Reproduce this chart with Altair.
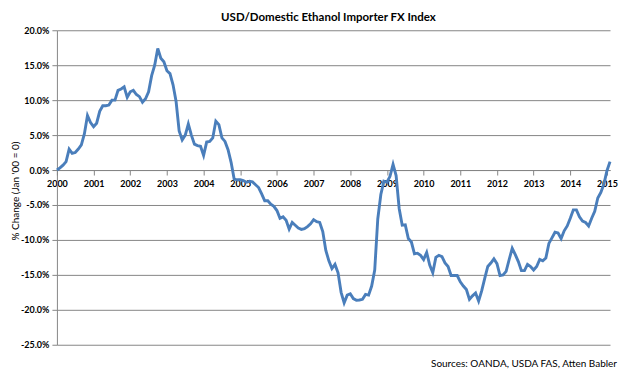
import altair as alt
import pandas as pd

# Monthly % change vs Jan 2000, Jan 2000 .. Feb 2015
pct_change = [
    0.0, 0.3, 0.7, 1.2, 3.0, 2.4, 2.5, 3.0, 3.6, 5.2, 7.8, 6.8,            # 2000
    6.2, 6.7, 8.4, 9.2, 9.2, 9.3, 10.0, 10.0, 11.4, 11.6, 11.9, 10.4,      # 2001
    11.2, 11.4, 10.8, 10.5, 9.7, 10.2, 11.2, 13.5, 15.0, 17.4, 16.0, 15.5,  # 2002
    14.2, 13.8, 12.2, 9.8, 5.6, 4.3, 5.0, 6.6, 5.0, 3.7, 3.5, 3.4,          # 2003
    2.1, 4.0, 4.1, 4.6, 7.0, 6.5, 4.6, 4.1, 2.9, 1.1, -1.3, -1.4,           # 2004
    -1.4, -1.5, -1.75, -1.6, -1.7, -2.1, -2.5, -3.4, -4.4, -4.4, -4.9, -5.2, # 2005
    -5.8, -6.9, -6.7, -7.2, -8.45, -7.5, -7.9, -8.3, -8.5, -8.4, -8.1, -7.7, # 2006
    -7.1, -7.4, -7.5, -8.8, -11.5, -13.0, -14.1, -13.5, -14.7, -17.5, -19.0, -17.9,  # 2007
    -17.7, -18.4, -18.65, -18.6, -18.5, -17.8, -17.9, -16.6, -14.3, -7.0, -3.5, -1.6, # 2008
    -1.75, -0.9, 0.8, -0.8, -5.5, -7.9, -7.85, -9.8, -10.3, -12.0, -11.9, -12.2,     # 2009
    -12.8, -11.8, -13.6, -14.7, -12.5, -12.2, -12.4, -13.3, -13.8, -15.1, -15.1, -15.1, # 2010
    -16.0, -16.6, -17.1, -18.5, -18.0, -17.6, -18.75, -17.3, -15.5, -13.8, -13.3, -12.7, # 2011
    -13.4, -15.1, -15.0, -14.5, -12.8, -11.2, -12.1, -13.1, -14.4, -14.4, -13.5, -13.8, # 2012
    -14.3, -13.8, -12.8, -13.0, -12.6, -10.5, -9.7, -8.9, -9.0, -9.8, -8.7, -8.0,       # 2013
    -6.9, -5.7, -5.7, -6.7, -7.3, -7.5, -8.0, -6.9, -5.9, -4.0, -3.2, -2.0,            # 2014
    -0.1, 1.2,                                                                          # 2015
]
start_year = 2000
year_ticks = list(range(2000, 2016))
y_ticks = [-25, -20, -15, -10, -5, 0, 5, 10, 15, 20]

title_text = "USD/Domestic Ethanol Importer FX Index"
y_title = "% Change (Jan '00 = 0)"
source_text = "Sources: OANDA, USDA FAS, Atten Babler"

year_pos = [start_year + i / 12 for i in range(len(pct_change))]
df = pd.DataFrame({"year": year_pos, "pct": pct_change})

W, H = 554, 315
FONT = "Lato"
GRID = "#868686"

line = alt.Chart(df).mark_line(color="#4a7ebb", strokeWidth=2.9).encode(
    x=alt.X(
        "year:Q",
        scale=alt.Scale(domain=[2000, year_pos[-1]], nice=False, zero=False),
        axis=alt.Axis(
            values=year_ticks, format="d", offset=-175, grid=False, title=None,
            tickSize=5, labelPadding=4, domainColor=GRID, tickColor=GRID,
            labelFont=FONT, labelFontWeight="bold", labelFontSize=9, labelColor="#000",
            labelFlush=False, labelOverlap=False,
        ),
    ),
    y=alt.Y(
        "pct:Q",
        scale=alt.Scale(domain=[-25, 20], nice=False),
        axis=alt.Axis(
            values=y_ticks,
            labelExpr="(datum.value < 0 ? '-' : '') + format(abs(datum.value), '.1f') + '%'",
            title=y_title, titleFont=FONT, titleFontSize=10, titleFontWeight="normal",
            titleColor="#000", titleX=-41, titleY=H / 2 + 3, titleAlign="center",
            titleBaseline="middle",
            gridColor=GRID, domainColor=GRID, tickColor=GRID, tickSize=5, labelPadding=3,
            labelFont=FONT, labelFontWeight="bold", labelFontSize=9, labelColor="#000",
        ),
    ),
)

source = alt.Chart(pd.DataFrame({"t": [source_text]})).mark_text(
    align="right", baseline="middle", fontSize=10, font=FONT, color="#000"
).encode(x=alt.value(561), y=alt.value(334), text="t:N")

chart = alt.layer(line, source).properties(
    width=W, height=H,
    title=alt.Title(title_text, font=FONT, fontSize=11.5, fontWeight="bold", color="#000",
                    anchor="middle", dx=-5, offset=3),
    autosize=alt.AutoSizeParams(type="none"),
    padding={"left": 49, "top": 22, "right": 10, "bottom": 30},
).configure_view(stroke=None)

chart.save("out.html", embed_options={"renderer": "svg", "actions": False})
